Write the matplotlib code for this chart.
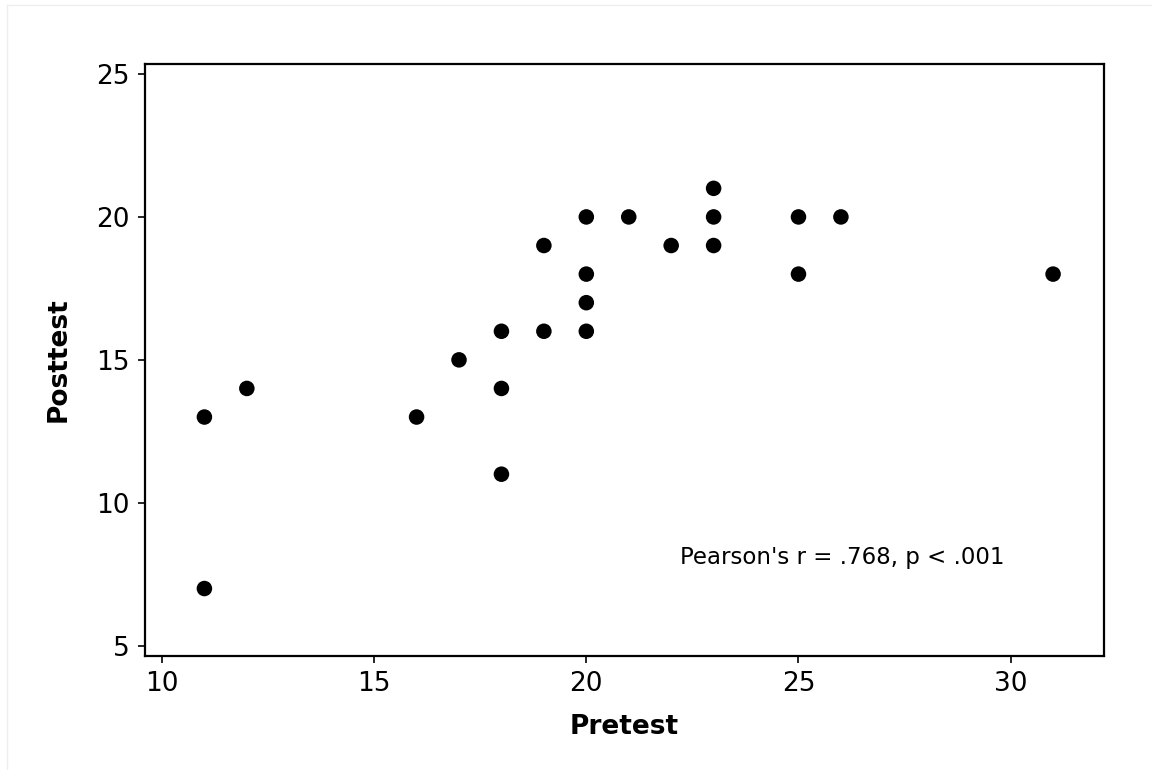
import matplotlib.pyplot as plt
from matplotlib.lines import Line2D

# Pretest / Posttest scores
pretest = [11, 11, 12, 16, 17, 18, 18, 18, 19, 19, 20, 20, 20, 20,
           21, 22, 23, 23, 23, 25, 25, 26, 31]
posttest = [13, 7, 14, 13, 15, 16, 14, 11, 19, 16, 20, 18, 17, 16,
            20, 19, 21, 20, 19, 20, 18, 20, 18]
x_ticks = [10, 15, 20, 25, 30]
y_ticks = [5, 10, 15, 20, 25]
note = "Pearson's r = .768, p < .001"

plt.rcParams['font.family'] = ['DejaVu Sans']

fig = plt.figure(figsize=(11.52, 7.70), dpi=100)
ax = fig.add_axes([145 / 1152, 1 - 656 / 770, 959 / 1152, 592 / 770])

ax.scatter(pretest, posttest, s=125, color='black', edgecolors='none', zorder=3)

ax.set_xlim(9.6, 32.2)
ax.set_ylim(4.64, 25.35)
ax.set_xticks(x_ticks)
ax.set_yticks(y_ticks)
ax.tick_params(direction='out', length=5, width=1.2, labelsize=19, pad=6)
for sp in ax.spines.values():
    sp.set_linewidth(1.6)

ax.set_xlabel('Pretest', fontsize=19, fontweight='bold', labelpad=12)
ax.set_ylabel('Posttest', fontsize=19, fontweight='bold', labelpad=18)

ax.text(22.2, 8.1, note, fontsize=16.5, va='center', ha='left')

# faint outer frame
fig.add_artist(Line2D([7 / 1152, 7 / 1152], [0, 1 - 5 / 770], color='#eeeeee', lw=1))
fig.add_artist(Line2D([7 / 1152, 1], [1 - 5 / 770, 1 - 5 / 770], color='#eeeeee', lw=1))

fig.savefig('out.png', dpi=100)
